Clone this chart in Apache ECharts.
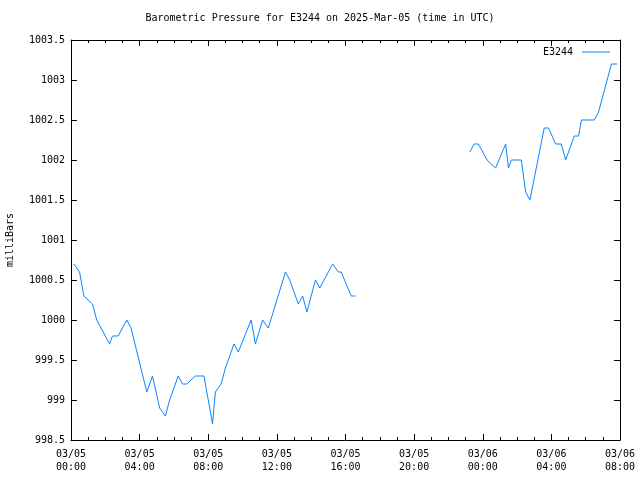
<!DOCTYPE html>
<html><head><meta charset="utf-8">
<script src="https://cdn.jsdelivr.net/npm/echarts@6/dist/echarts.min.js"></script>
<style>html,body{margin:0;padding:0;background:#fff}#c{width:640px;height:480px}</style>
</head><body><div id="c"></div>
<script>
const chartTitle = 'Barometric Pressure for E3244 on 2025-Mar-05 (time in UTC)';
const seriesName = 'E3244';
const yAxisName = 'milliBars';
// segment 1 (2025-03-05)
const times1 = ['2025-03-05T00:10Z','2025-03-05T00:30Z','2025-03-05T00:45Z','2025-03-05T01:15Z','2025-03-05T01:30Z',
 '2025-03-05T02:15Z','2025-03-05T02:25Z','2025-03-05T02:45Z','2025-03-05T03:15Z','2025-03-05T03:30Z',
 '2025-03-05T04:25Z','2025-03-05T04:45Z','2025-03-05T05:10Z','2025-03-05T05:30Z','2025-03-05T05:45Z',
 '2025-03-05T06:15Z','2025-03-05T06:30Z','2025-03-05T06:45Z','2025-03-05T07:15Z','2025-03-05T07:45Z',
 '2025-03-05T08:15Z','2025-03-05T08:25Z','2025-03-05T08:45Z','2025-03-05T09:00Z','2025-03-05T09:10Z',
 '2025-03-05T09:30Z','2025-03-05T09:45Z','2025-03-05T10:30Z','2025-03-05T10:45Z','2025-03-05T11:10Z',
 '2025-03-05T11:30Z','2025-03-05T12:30Z','2025-03-05T12:45Z','2025-03-05T13:15Z','2025-03-05T13:30Z',
 '2025-03-05T13:45Z','2025-03-05T14:15Z','2025-03-05T14:30Z','2025-03-05T15:15Z','2025-03-05T15:35Z',
 '2025-03-05T15:45Z','2025-03-05T16:20Z','2025-03-05T16:35Z'];
const values1 = [1000.7,1000.6,1000.3,1000.2,1000.0,
 999.7,999.8,999.8,1000.0,999.9,
 999.1,999.3,998.9,998.8,999.0,
 999.3,999.2,999.2,999.3,999.3,
 998.7,999.1,999.2,999.4,999.5,
 999.7,999.6,1000.0,999.7,1000.0,
 999.9,1000.6,1000.5,1000.2,1000.3,
 1000.1,1000.5,1000.4,1000.7,1000.6,
 1000.6,1000.3,1000.3];
// gap in the record
const gapTime = '2025-03-05T20:00Z';
// segment 2
const times2 = ['2025-03-05T23:15Z','2025-03-05T23:30Z','2025-03-05T23:45Z','2025-03-06T00:15Z','2025-03-06T00:45Z',
 '2025-03-06T01:20Z','2025-03-06T01:30Z','2025-03-06T01:40Z','2025-03-06T02:15Z','2025-03-06T02:30Z',
 '2025-03-06T02:45Z','2025-03-06T03:35Z','2025-03-06T03:50Z','2025-03-06T04:15Z','2025-03-06T04:35Z',
 '2025-03-06T04:50Z','2025-03-06T05:20Z','2025-03-06T05:35Z','2025-03-06T05:45Z','2025-03-06T06:30Z',
 '2025-03-06T06:45Z','2025-03-06T07:30Z','2025-03-06T07:50Z'];
const values2 = [1002.1,1002.2,1002.2,1002.0,1001.9,
 1002.2,1001.9,1002.0,1002.0,1001.6,
 1001.5,1002.4,1002.4,1002.2,1002.2,
 1002.0,1002.3,1002.3,1002.5,1002.5,
 1002.6,1003.2,1003.2];
const yMin = 998.5, yMax = 1003.5, yStep = 0.5;
const xStart = '2025-03-05T00:00Z', xEnd = '2025-03-06T08:00Z';
const xStepHours = 4;

const H = 3600000;
const data = [];
times1.forEach((t, i) => data.push([Date.parse(t), values1[i]]));
data.push([Date.parse(gapTime), '-']);
times2.forEach((t, i) => data.push([Date.parse(t), values2[i]]));

const pad = n => String(n).padStart(2, '0');
const fmtX = v => { const d = new Date(v); return pad(d.getUTCMonth()+1)+'/'+pad(d.getUTCDate())+'\n'+pad(d.getUTCHours())+':'+pad(d.getUTCMinutes()); };
const fmtY = v => String(Math.round(v * 10) / 10);
const FONT = 'DejaVu Sans Mono';
const axisLine = {show:true, lineStyle:{color:'#000', width:1}};
const xCommon = {type:'value', min:Date.parse(xStart), max:Date.parse(xEnd), interval:xStepHours*H,
  axisLine, splitLine:{show:false},
  axisTick:{show:true, inside:true, length:6, lineStyle:{color:'#000'}},
  minorTick:{show:true, splitNumber:4, length:3, lineStyle:{color:'#000'}}};
const yCommon = {type:'value', min:yMin, max:yMax, interval:yStep, axisLine, splitLine:{show:false},
  axisTick:{show:true, inside:true, length:6, lineStyle:{color:'#000'}}};

const chart = echarts.init(document.getElementById('c'), null, {renderer:'canvas'});
chart.setOption({
  animation:false,
  backgroundColor:'#fff',
  textStyle:{fontFamily:FONT},
  title:{text:chartTitle, left:'center', top:13, padding:0,
    textStyle:{fontFamily:FONT, fontSize:10, fontWeight:'normal', color:'#000'}},
  legend:{data:[{name:seriesName, icon:'rect'}], right:25, top:42, align:'right', itemWidth:28, itemHeight:1, itemGap:8,
    textStyle:{fontFamily:FONT, fontSize:10, color:'#000', padding:[0,4,0,0]}},
  grid:{left:71, right:20, top:40, bottom:40, containLabel:false, outerBoundsMode:'none'},
  xAxis:[
    Object.assign({}, xCommon, {position:'bottom', axisLabel:{formatter:fmtX, fontFamily:FONT, fontSize:10, color:'#000', margin:8, lineHeight:13}}),
    Object.assign({}, xCommon, {position:'top', axisLabel:{show:false}})
  ],
  yAxis:[
    Object.assign({}, yCommon, {position:'left', name:yAxisName, nameLocation:'middle', nameGap:56, nameRotate:90,
      nameTextStyle:{fontFamily:FONT, fontSize:10, color:'#000'},
      axisLabel:{formatter:fmtY, fontFamily:FONT, fontSize:10, color:'#000', margin:6}}),
    Object.assign({}, yCommon, {position:'right', axisLabel:{show:false}})
  ],
  series:[{name:seriesName, type:'line', data, showSymbol:false, symbol:'none', connectNulls:false,
    lineStyle:{color:'#0a84ff', width:1}, itemStyle:{color:'#0a84ff'}, xAxisIndex:0, yAxisIndex:0}]
});
</script></body></html>
